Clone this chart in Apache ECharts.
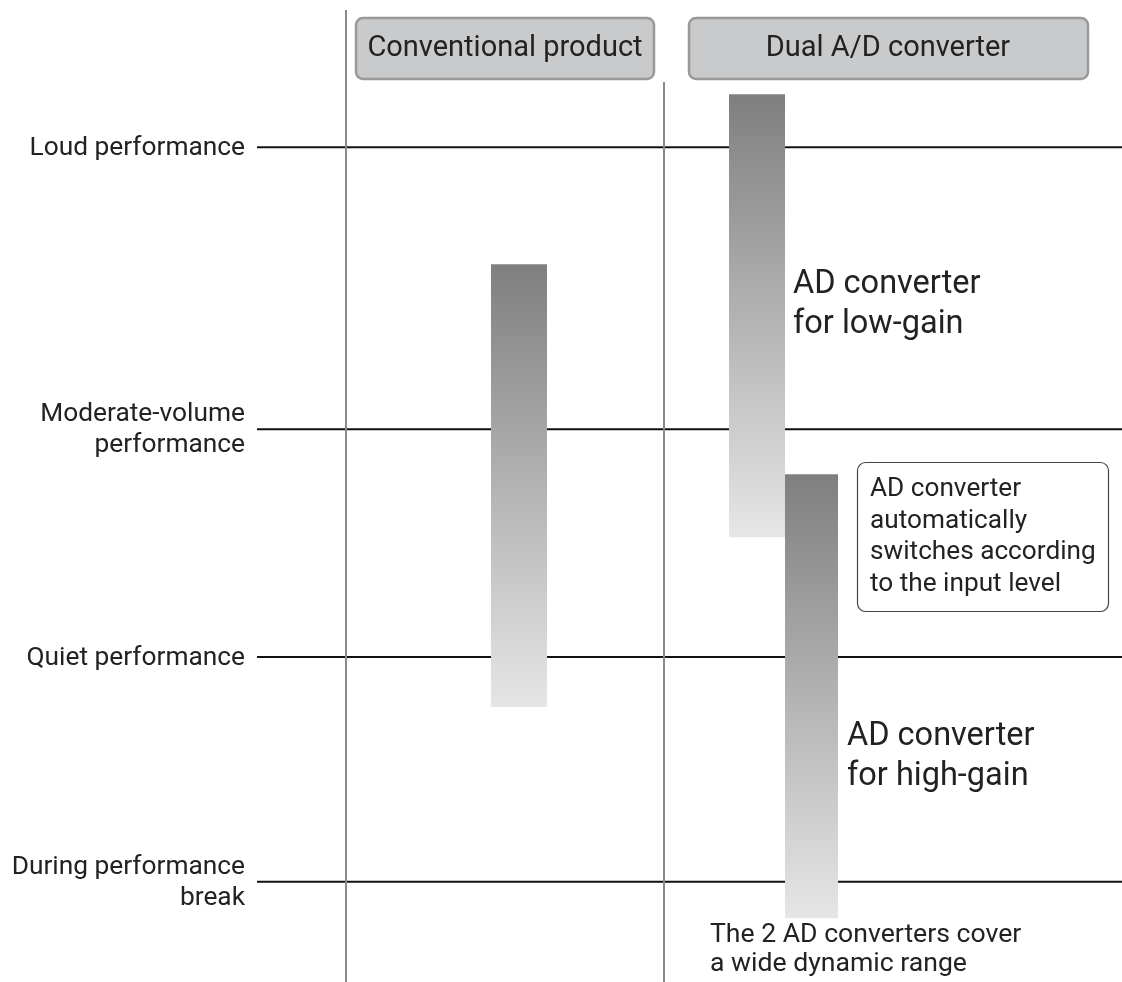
<!DOCTYPE html>
<html><head><meta charset="utf-8">
<script src="https://cdn.jsdelivr.net/npm/echarts@6/dist/echarts.min.js"></script>
<style>html,body{margin:0;padding:0;background:#fff}#c{width:1122px;height:982px}</style>
</head><body><div id="c"></div>
<script>
// ---- data (relative input level, 0–100 scale) ----
const levelLabels = ['Loud performance', 'Moderate-volume\nperformance', 'Quiet performance', 'During performance\nbreak'];
const levelValues = [85.0, 56.3, 33.1, 10.2];
const barNames = ['Conventional product', 'AD converter for low-gain', 'AD converter for high-gain'];
const barHigh = [73.1, 90.4, 51.7];
const barLow = [28.0, 45.3, 6.5];
const headerLabels = ['Conventional product', 'Dual A/D converter'];

// ---- layout ----
const barX = [519, 757, 811.5];
const barW = [56, 56, 53];
const FONT = 'Roboto, "Noto Sans", sans-serif';

const chart = echarts.init(document.getElementById('c'));
const gradient = new echarts.graphic.LinearGradient(0, 0, 0, 1, [
  {offset: 0, color: '#7f7f7f'}, {offset: 1, color: '#e6e6e6'}
]);

const option = {
  backgroundColor: '#fff',
  animation: false,
  grid: {left: 0, right: 0, top: 0, bottom: 0},
  xAxis: {type: 'value', min: 0, max: 1122, show: false},
  yAxis: {type: 'value', min: 0, max: 100, show: false},
  series: [
    {
      type: 'custom',
      name: 'levels',
      data: levelValues.map((v, i) => [i, v]),
      renderItem: function (params, api) {
        const i = api.value(0);
        const p = api.coord([0, api.value(1)]);
        return {
          type: 'group',
          children: [
            {type: 'line', shape: {x1: 257, y1: p[1], x2: 1122, y2: p[1]},
             style: {stroke: '#111', lineWidth: 2}},
            {type: 'text', style: {text: levelLabels[i], x: 245, y: p[1] + 1,
              align: 'right', verticalAlign: 'middle', fill: '#222',
              font: '26.3px ' + FONT, lineHeight: 31}}
          ]
        };
      },
      z: 1
    },
    {
      type: 'custom',
      name: 'bars',
      data: barNames.map((n, i) => [i, barLow[i], barHigh[i]]),
      renderItem: function (params, api) {
        const i = api.value(0);
        const top = api.coord([barX[i], api.value(2)]);
        const bot = api.coord([barX[i], api.value(1)]);
        return {
          type: 'rect',
          shape: {x: top[0] - barW[i] / 2, y: top[1], width: barW[i], height: bot[1] - top[1]},
          style: {fill: gradient}
        };
      },
      z: 3
    }
  ],
  graphic: [
    {type: 'line', shape: {x1: 346, y1: 10, x2: 346, y2: 982}, style: {stroke: '#8a8a8a', lineWidth: 2}, z: 2},
    {type: 'line', shape: {x1: 664, y1: 82, x2: 664, y2: 982}, style: {stroke: '#8a8a8a', lineWidth: 2}, z: 2},
    {type: 'rect', shape: {x: 356, y: 18, width: 298, height: 61, r: 7},
     style: {fill: '#c9cacc', stroke: '#999', lineWidth: 2.5}, z: 5},
    {type: 'text', style: {text: headerLabels[0], x: 505, y: 49, align: 'center', verticalAlign: 'middle',
      fill: '#222', font: '29px ' + FONT}, z: 6},
    {type: 'rect', shape: {x: 689, y: 18, width: 399, height: 61, r: 7},
     style: {fill: '#c9cacc', stroke: '#999', lineWidth: 2.5}, z: 5},
    {type: 'text', style: {text: headerLabels[1], x: 888, y: 49, align: 'center', verticalAlign: 'middle',
      fill: '#222', font: '29px ' + FONT}, z: 6},
    {type: 'text', style: {text: 'AD converter\nfor low-gain', x: 793, y: 305, align: 'left', verticalAlign: 'middle',
      fill: '#222', font: '32.5px ' + FONT, lineHeight: 40}, z: 6},
    {type: 'text', style: {text: 'AD converter\nfor high-gain', x: 847, y: 757, align: 'left', verticalAlign: 'middle',
      fill: '#222', font: '32.5px ' + FONT, lineHeight: 40}, z: 6},
    {type: 'rect', shape: {x: 857.5, y: 462.5, width: 251, height: 149, r: 8},
     style: {fill: '#fff', stroke: '#444', lineWidth: 1.2}, z: 5},
    {type: 'text', style: {text: 'AD converter\nautomatically\nswitches according\nto the input level', x: 870, y: 537,
      align: 'left', verticalAlign: 'middle', fill: '#222', font: '26.2px ' + FONT, lineHeight: 31.7}, z: 6},
    {type: 'text', style: {text: 'The 2 AD converters cover\na wide dynamic range', x: 710, y: 950,
      align: 'left', verticalAlign: 'middle', fill: '#222', font: '26.6px ' + FONT, lineHeight: 29}, z: 6}
  ]
};
chart.setOption(option);
</script>
</body></html>
